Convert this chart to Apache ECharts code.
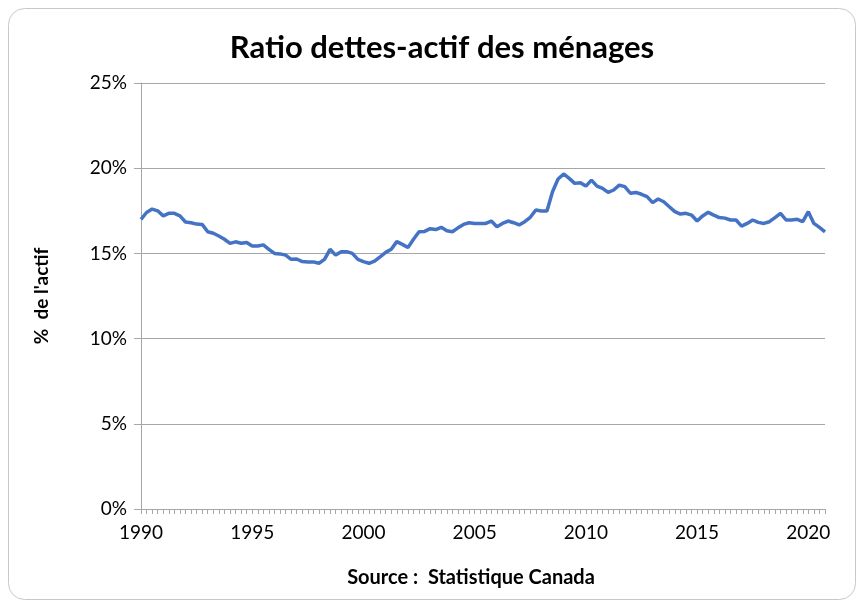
<!DOCTYPE html>
<html>
<head>
<meta charset="utf-8">
<script src="https://cdn.jsdelivr.net/npm/echarts@6/dist/echarts.min.js"></script>
<style>
  html, body { margin: 0; padding: 0; background: #fff; }
  #main { width: 861px; height: 607px; }
</style>
</head>
<body>
<div id="main"></div>
<script>
// quarterly, 1990 T1 .. 2020 T4
var startYear = 1990;
var endYear = 2020;
var yTicks = [0, 5, 10, 15, 20, 25];

// ratio dettes/actif (%)
var ratio = [
  17.0, 17.4, 17.6, 17.5, 17.2, 17.35, 17.35, 17.2, 16.84, 16.8,
  16.72, 16.7, 16.27, 16.18, 16.02, 15.83, 15.59, 15.68, 15.6, 15.64,
  15.43, 15.43, 15.5, 15.24, 15.0, 14.97, 14.9, 14.65, 14.67, 14.52,
  14.5, 14.5, 14.42, 14.65, 15.24, 14.9, 15.1, 15.1, 15.0, 14.65,
  14.52, 14.42, 14.55, 14.8, 15.06, 15.24, 15.69, 15.53, 15.34, 15.83,
  16.27, 16.29, 16.45, 16.4, 16.53, 16.33, 16.27, 16.5, 16.7, 16.8,
  16.76, 16.76, 16.76, 16.9, 16.57, 16.76, 16.9, 16.8, 16.67, 16.86,
  17.12, 17.55, 17.49, 17.49, 18.62, 19.37, 19.66, 19.4, 19.11, 19.15,
  18.95, 19.3, 18.95, 18.82, 18.58, 18.72, 19.01, 18.92, 18.53, 18.58,
  18.47, 18.33, 17.98, 18.19, 18.03, 17.74, 17.45, 17.31, 17.35, 17.25,
  16.9, 17.2, 17.41, 17.25, 17.1, 17.07, 16.96, 16.96, 16.6, 16.76,
  16.96, 16.82, 16.76, 16.86, 17.1, 17.35, 16.96, 16.96, 17.0, 16.86,
  17.45, 16.76, 16.53, 16.27
];

var categories = [];
for (var y = startYear; y <= endYear; y++) {
  for (var q = 1; q <= 4; q++) {
    categories.push(y + ' T' + q);
  }
}

var chart = echarts.init(document.getElementById('main'));
var font = 'Lato, "Open Sans", sans-serif';

var option = {
  animation: false,
  backgroundColor: '#fff',
  graphic: [
    {
      type: 'rect',
      shape: { x: 8.5, y: 8.5, width: 847, height: 591, r: 16 },
      style: { fill: 'none', stroke: '#c8c8c8', lineWidth: 1 },
      z: -1
    },
    {
      type: 'text',
      style: {
        x: 471,
        y: 578,
        text: 'Source :  Statistique Canada',
        textAlign: 'center',
        textVerticalAlign: 'middle',
        font: 'bold 20px ' + font,
        fill: '#000'
      }
    }
  ],
  title: {
    text: 'Ratio dettes-actif des ménages',
    left: 437,
    textAlign: 'center',
    top: 27,
    textStyle: { fontFamily: font, fontSize: 31, fontWeight: 'bold', color: '#000' }
  },
  grid: { left: 141, right: 36, top: 83, bottom: 98, containLabel: false },
  xAxis: {
    type: 'category',
    data: categories,
    boundaryGap: false,
    axisLine: { lineStyle: { color: '#a6a6a6', width: 1 } },
    axisTick: { show: true, interval: 0, length: 5, lineStyle: { color: '#a6a6a6' } },
    axisLabel: {
      interval: function (i) { return i % 20 === 0; },
      formatter: function (v) { return v.slice(0, 4); },
      fontFamily: font, fontSize: 19, color: '#000', margin: 14
    },
    splitLine: { show: false }
  },
  yAxis: {
    type: 'value',
    min: yTicks[0],
    max: yTicks[yTicks.length - 1],
    interval: 5,
    name: "%  de l'actif",
    nameLocation: 'middle',
    nameGap: 90,
    nameRotate: 90,
    nameTextStyle: { fontFamily: font, fontSize: 19, fontWeight: 'bold', color: '#000' },
    axisLine: { show: true, lineStyle: { color: '#a6a6a6', width: 1 } },
    axisTick: { show: true, length: 7, lineStyle: { color: '#a6a6a6' } },
    axisLabel: { formatter: '{value}%', fontFamily: font, fontSize: 19, color: '#000', margin: 14 },
    splitLine: { lineStyle: { color: '#a6a6a6', width: 1 } }
  },
  series: [
    {
      type: 'line',
      data: ratio,
      symbol: 'none',
      lineStyle: { color: '#4472C4', width: 3.5 },
      itemStyle: { color: '#4472C4' }
    }
  ]
};

chart.setOption(option);
</script>
</body>
</html>
